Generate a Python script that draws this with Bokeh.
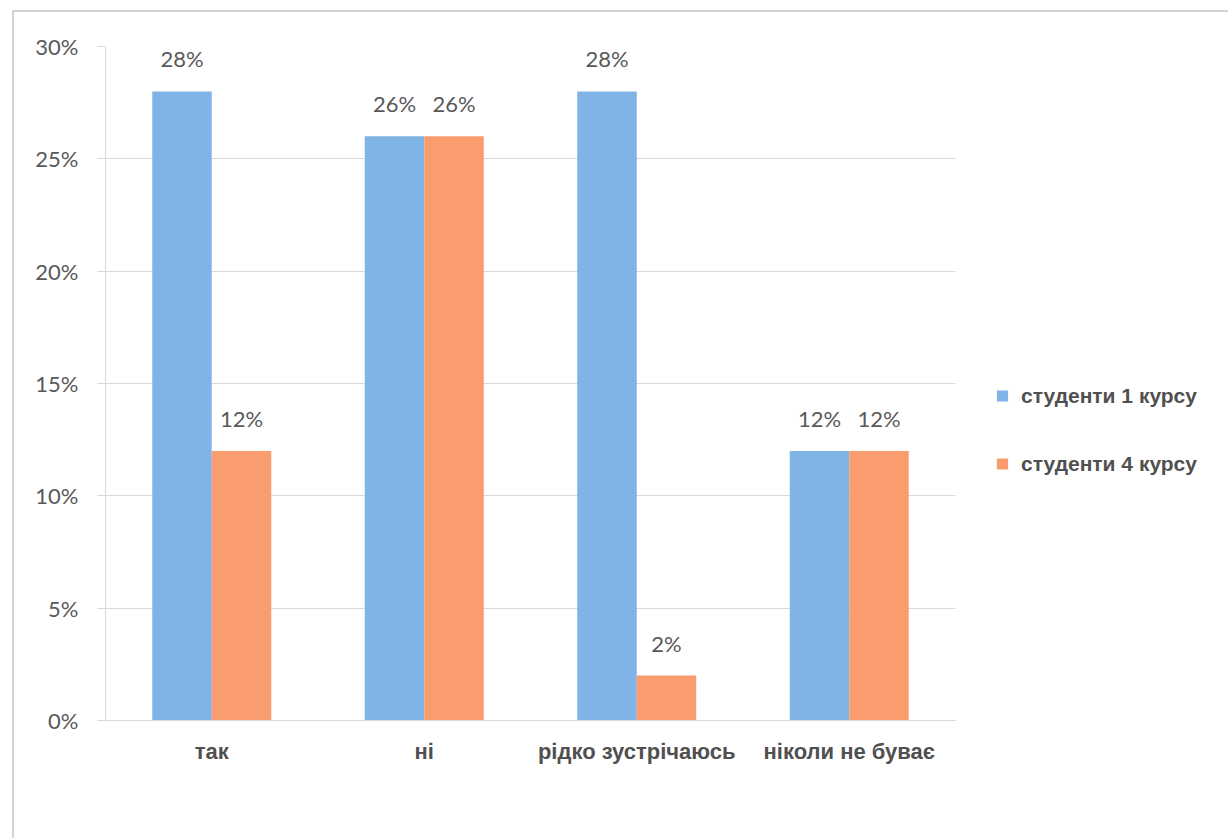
from bokeh.plotting import figure
from bokeh.models import ColumnDataSource, FactorRange, Legend, LegendItem, LabelSet, NumeralTickFormatter, FixedTicker
from bokeh.core.properties import value
from bokeh.transform import dodge
from bokeh.embed import file_html
from bokeh.resources import INLINE

categories = ["так", "ні", "рідко зустрічаюсь", "ніколи не буває"]
series1_name = "студенти 1 курсу"
series2_name = "студенти 4 курсу"
series1 = [0.28, 0.26, 0.28, 0.12]
series2 = [0.12, 0.26, 0.02, 0.12]
y_ticks = [0, 0.05, 0.10, 0.15, 0.20, 0.25, 0.30]

BLUE = "#80B3E6"
ORANGE = "#F99C6E"

src = ColumnDataSource(dict(
    cat=categories,
    s1=series1,
    s2=series2,
    l1=[f"{round(v*100)}%" for v in series1],
    l2=[f"{round(v*100)}%" for v in series2],
))

p = figure(frame_width=850, frame_height=674, x_range=FactorRange(*categories, range_padding=0),
           y_range=(0, 0.30), output_backend="svg", toolbar_location=None,
           min_border_left=91, min_border_right=0, min_border_top=34, min_border_bottom=118)
p.margin = (10, 0, 0, 12)
p.styles = {"border-top": "2px solid #d4d4d4", "border-left": "2px solid #d4d4d4"}
p.outline_line_color = None
p.background_fill_color = "white"
p.border_fill_color = "white"

w = 0.28
r1 = p.vbar(x=dodge("cat", -w / 2, range=p.x_range), top="s1", width=w, source=src,
            fill_color=BLUE, line_color=None)
r2 = p.vbar(x=dodge("cat", w / 2, range=p.x_range), top="s2", width=w, source=src,
            fill_color=ORANGE, line_color=None)

for xoff, field, lab in [(-w / 2, "s1", "l1"), (w / 2, "s2", "l2")]:
    ls = LabelSet(x=dodge("cat", xoff, range=p.x_range), y=field, text=lab, source=src,
                  text_align="center", text_baseline="bottom", y_offset=19,
                  text_font=value("Lato"), text_font_size=value("22px"), text_color=value("#595959"))
    p.add_layout(ls)

p.yaxis.ticker = FixedTicker(ticks=y_ticks)
p.yaxis.formatter = NumeralTickFormatter(format="0%")
p.yaxis.major_label_text_font = "Lato"
p.yaxis.major_label_text_font_size = "22px"
p.yaxis.major_label_text_color = "#595959"
p.yaxis.axis_line_color = "#d9d9d9"
p.yaxis.major_tick_line_color = "#d9d9d9"
p.yaxis.major_tick_out = 8
p.yaxis.major_tick_in = 0
p.yaxis.minor_tick_line_color = None
p.yaxis.major_label_standoff = 19

p.xaxis.axis_line_color = "#d9d9d9"
p.xaxis.major_tick_line_color = None
p.xaxis.major_label_text_font = "Liberation Sans"
p.xaxis.major_label_text_font_size = "22px"
p.xaxis.major_label_text_font_style = "bold"
p.xaxis.major_label_text_color = "#505050"
p.xaxis.major_label_standoff = 12

p.xgrid.grid_line_color = None
p.ygrid.grid_line_color = "#d9d9d9"
p.ygrid.grid_line_width = 1

legend = Legend(items=[LegendItem(label=series1_name, renderers=[r1]),
                       LegendItem(label=series2_name, renderers=[r2])],
                location="left", orientation="vertical",
                title=" ", title_text_font_size="12px", title_standoff=79,
                glyph_width=14, glyph_height=14, label_height=20, spacing=44,
                label_standoff=12, padding=0, margin=40, border_line_color=None,
                background_fill_alpha=0,
                label_text_font="Liberation Sans", label_text_font_size="21px",
                label_text_font_style="bold", label_text_color="#505050")
p.add_layout(legend, "right")

open("out.html", "w").write(file_html(p, INLINE))
